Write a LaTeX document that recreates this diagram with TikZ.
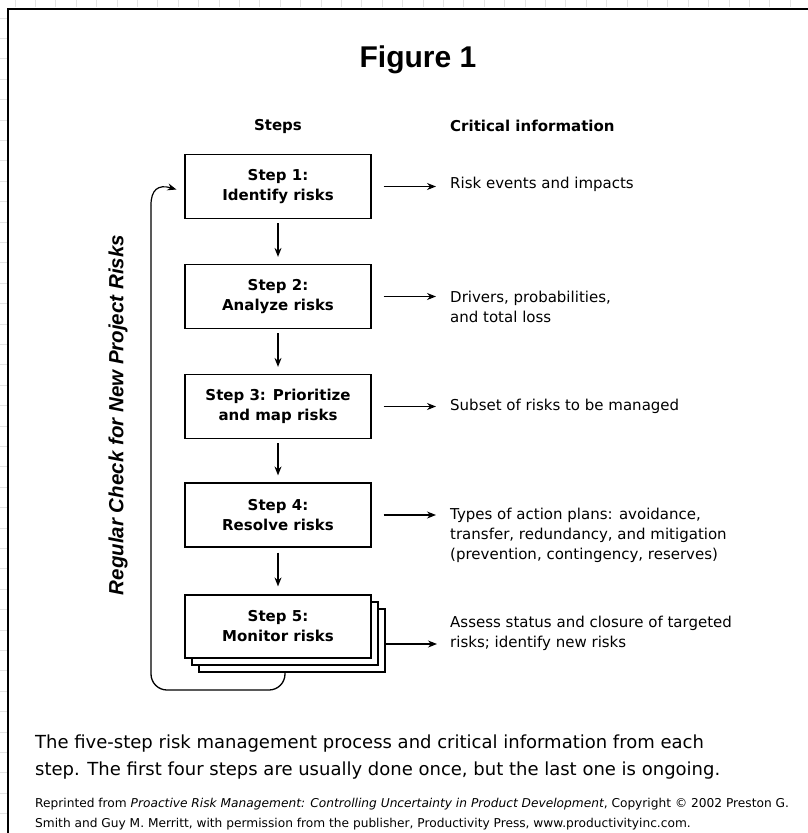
\documentclass[tikz,border=0pt]{standalone}
\usepackage{fontspec}
\setmainfont{Liberation Sans}
\newfontfamily\tah{DejaVu Sans}
\usetikzlibrary{arrows.meta}
\tikzset{
  stepbox/.style={draw, line width=1.2pt, fill=white, minimum width=186pt, minimum height=64pt, inner sep=0pt, align=center, font=\tah\bfseries\fontsize{15}{20}\selectfont},
  infotext/.style={anchor=west, align=left, inner sep=0pt, font=\tah\fontsize{15}{20}\selectfont},
  head/.style={inner sep=0pt, font=\tah\bfseries\fontsize{15}{20}\selectfont},
  arr/.style={line width=1.2pt, -{Stealth[length=9pt,width=7pt]}},
  gridline/.style={draw=gray!22, line width=0.8pt}
}
\begin{document}
\begin{tikzpicture}[x=1pt,y=-1pt]
\useasboundingbox (0,0) rectangle (808,833);
% faint grid outside the frame
\foreach \i in {0,...,39} {
  \draw[gridline] (15+20.4*\i,0) -- (15+20.4*\i,7);
  \draw[gridline] (0,18+20.4*\i) -- (7,18+20.4*\i);
}
% frame
\draw[line width=2pt] (8,833) -- (8,9) -- (808,9);
% title
\node[inner sep=0pt, font=\bfseries\fontsize{30}{34}\selectfont] (title) at (418,60) {Figure 1};
% headers
\node[head] (hsteps) at (278,126) {Steps};
\node[head, anchor=west] (hinfo) at (450,126) {Critical information};
% step boxes
\node[stepbox] (s1) at (278,186.5) {Step 1:\\Identify risks};
\node[stepbox] (s2) at (278,296.5) {Step 2:\\Analyze risks};
\node[stepbox] (s3) at (278,406.5) {Step 3: Prioritize\\and map risks};
\node[stepbox] (s4) at (278,515) {Step 4:\\Resolve risks};
\node[stepbox, minimum height=63pt] (s5c) at (292,640.5) {};
\node[stepbox, minimum height=63pt] (s5b) at (285,633.5) {};
\node[stepbox, minimum height=63pt] (s5) at (278,626.5) {Step 5:\\Monitor risks};
% down arrows
\draw[arr, shorten <=4pt, shorten >=7pt] (s1) -- (s2);
\draw[arr, shorten <=4pt, shorten >=7pt] (s2) -- (s3);
\draw[arr, shorten <=4pt, shorten >=7pt] (s3) -- (s4);
\draw[arr, shorten <=5pt, shorten >=8pt] (s4) -- (s5);
% information
\node[infotext] (i1) at (450,184) {Risk events and impacts};
\node[infotext] (i2) at (450,306.5) {Drivers, probabilities,\\and total loss};
\node[infotext] (i3) at (450,406.5) {Subset of risks to be managed};
\node[infotext] (i4) at (450,535) {Types of action plans: avoidance,\\transfer, redundancy, and mitigation\\(prevention, contingency, reserves)};
\node[infotext] (i5) at (450,633) {Assess status and closure of targeted\\risks; identify new risks};
\draw[arr, shorten <=12pt, shorten >=14pt] (s1.east) -- (s1.east -| i1.west);
\draw[arr, shorten <=12pt, shorten >=14pt] (s2.east) -- (s2.east -| i2.west);
\draw[arr, shorten <=12pt, shorten >=14pt] (s3.east) -- (s3.east -| i3.west);
\draw[arr, shorten <=12pt, shorten >=14pt] (s4.east) -- (s4.east -| i4.west);
\draw[arr, shorten >=13pt] ([yshift=-3.5pt]s5c.east) -- ([yshift=-3.5pt]s5c.east -| i5.west);
% return loop
\node[rotate=90, inner sep=0pt, font=\bfseries\itshape\fontsize{20.5}{22}\selectfont] (vt) at (118,415) {Regular Check for New Project Risks};
\coordinate (lb) at (151,690);
\coordinate (lt) at (151,205);
\draw[line width=1.3pt, rounded corners=16pt] ([xshift=-7pt]s5c.south) |- (lb) -- (lt);
\draw[arr] (lt) .. controls (151,190) and (158,184) .. ([xshift=-8pt,yshift=-3pt]s1.west);
% caption
\node[anchor=north west, align=left, inner sep=0pt, font=\tah\fontsize{18}{27}\selectfont] (cap) at (35,735) {The five-step risk management process and critical information from each\\step. The first four steps are usually done once, but the last one is ongoing.};
\node[anchor=north west, align=left, inner sep=0pt, font=\tah\fontsize{12.2}{20}\selectfont] (src) at (35,798) {Reprinted from \textit{Proactive Risk Management: Controlling Uncertainty in Product Development}, Copyright © 2002 Preston G.\\Smith and Guy M. Merritt, with permission from the publisher, Productivity Press, www.productivityinc.com.};
\end{tikzpicture}
\end{document}
